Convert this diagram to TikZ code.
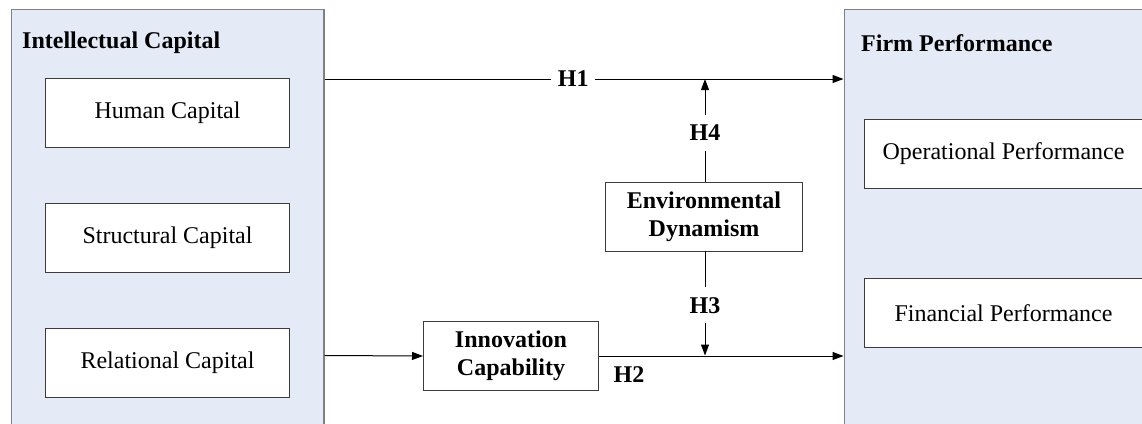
\documentclass[tikz,border=0pt]{standalone}
\usepackage{fontspec}
\setmainfont{Liberation Serif}
\usetikzlibrary{arrows.meta}
\definecolor{panelfill}{RGB}{228,235,246}
\definecolor{panelline}{RGB}{128,128,128}
\definecolor{boxline}{RGB}{60,60,60}
\begin{document}
\begin{tikzpicture}[x=1pt,y=-1pt,
  panel/.style={draw=panelline, fill=panelfill, line width=1.3pt,
    rectangle, inner sep=0pt, anchor=north west},
  item/.style={draw=boxline, fill=white, line width=1pt, rectangle,
    inner sep=0pt, anchor=north west, font=\fontsize{24}{28}\selectfont},
  midbox/.style={draw=boxline, fill=white, line width=1pt, rectangle,
    inner sep=0pt, anchor=north west, align=center,
    font=\fontsize{24}{28.5}\selectfont\bfseries},
  title/.style={anchor=west, inner sep=0pt, font=\fontsize{24}{28}\selectfont\bfseries},
  hlabel/.style={fill=white, inner xsep=7pt, inner ysep=10pt,
    font=\fontsize{24}{28}\selectfont\bfseries},
  conn/.style={draw=black, line width=1pt, -{Triangle[length=11pt,width=8pt]}},
  plain/.style={draw=black, line width=1pt}
]
\useasboundingbox (0,0) rectangle (1142,423);
\clip (0,0) rectangle (1142,423);
\fill[white] (0,0) rectangle (1142,423);

% two large panels, running past the lower and right edges
\node[panel, minimum width=312.5pt, minimum height=440pt] (ic) at (10.8,9) {};
\node[panel, minimum width=320pt, minimum height=440pt] (fp) at (843.5,9) {};

\node[title] (ictitle) at (22,43) {Intellectual Capital};
\node[title] (fptitle) at (861,43) {Firm Performance};

% components of intellectual capital
\node[item, minimum width=244pt, minimum height=69pt] (hc) at (45,78) {Human Capital};
\node[item, minimum width=244pt, minimum height=69pt] (sc) at (45,203) {Structural Capital};
\node[item, minimum width=244pt, minimum height=69pt] (rc) at (45,327.5) {Relational Capital};

% components of firm performance
\node[item, minimum width=278pt, minimum height=69pt] (op) at (864,119) {Operational Performance};
\node[item, minimum width=278pt, minimum height=69pt] (fin) at (864,278) {Financial Performance};

% mediator and moderator
\node[midbox, minimum width=175pt, minimum height=69pt] (inno) at (423,321)
  {Innovation\\Capability};
\node[midbox, minimum width=197pt, minimum height=69pt] (env) at (605,182)
  {Environmental\\Dynamism};

% paths
\coordinate (h1s) at (ic.east |- 0,79);
\coordinate (h2s) at (ic.east |- 0,355.5);

\draw[conn] (h1s) -- node[hlabel, pos=0.479] (h1) {H1} (h1s -| fp.west);
\draw[conn] (h2s) -- (inno.west);
\draw[conn] (inno.east) -- (inno.east -| fp.west);
\node[anchor=center, inner sep=0pt, font=\fontsize{24}{28}\selectfont\bfseries] (h2) at (629,375) {H2};

\coordinate (envtop) at (705,182);
\coordinate (envbot) at (705,251);
\draw[conn] (envtop) -- node[hlabel, pos=0.476] (h4) {H4} (envtop |- h1s);
\draw[conn] (envbot) -- node[hlabel, pos=0.52] (h3) {H3} (envbot |- h2s);
\end{tikzpicture}
\end{document}
